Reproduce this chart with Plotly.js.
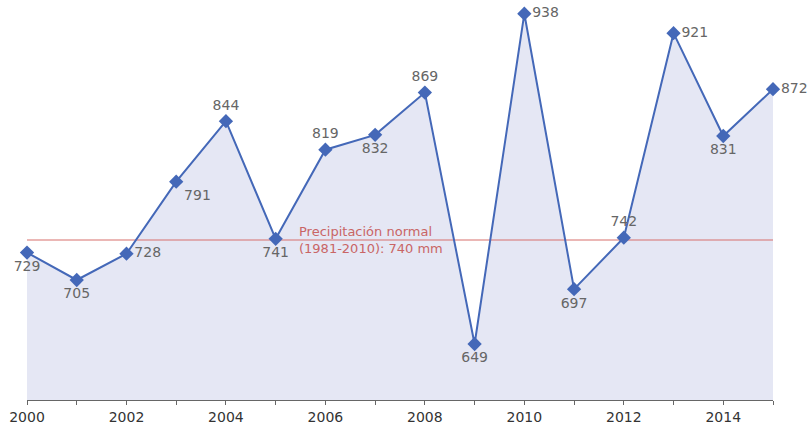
<!DOCTYPE html>
<html>
<head>
<meta charset="utf-8">
<script src="https://cdn.plot.ly/plotly-3.0.1.min.js"></script>
<style>html,body{margin:0;padding:0;background:#fff}#chart{width:809px;height:429px}</style>
</head>
<body>
<div id="chart"></div>
<script>
// Annual precipitation (mm), 2000–2015
const years = [2000,2001,2002,2003,2004,2005,2006,2007,2008,2009,2010,2011,2012,2013,2014,2015];
const precip = [729,705,728,791,844,741,819,832,869,649,938,697,742,921,831,872];
const labelPos = ['bottom center','bottom center','middle right','bottom right','top center','bottom center',
                  'top center','bottom center','top center','bottom center','middle right','bottom center',
                  'top center','middle right','bottom center','middle right'];
const normalValue = 740;
const normalLabel = 'Precipitación normal<br>(1981-2010): 740 mm';
const tickYears = [2000,2002,2004,2006,2008,2010,2012,2014];

const font = 'DejaVu Sans, sans-serif';
const blue = '#4468b8';

const traces = [
  // shaded area under the series
  {
    x: years, y: precip,
    type: 'scatter', mode: 'none',
    fill: 'tozeroy', fillcolor: '#e5e7f4',
    hoverinfo: 'skip'
  },
  // 1981-2010 normal reference line (drawn over the shading, under the series)
  {
    x: [years[0], years[years.length - 1]], y: [normalValue, normalValue],
    type: 'scatter', mode: 'lines',
    line: {color: '#d8706c', width: 1.2},
    hoverinfo: 'skip'
  },
  // series line, markers and value labels
  {
    x: years, y: precip,
    type: 'scatter', mode: 'lines+markers+text',
    line: {color: blue, width: 2},
    marker: {symbol: 'diamond', size: 11, color: blue},
    text: precip.map(String),
    textposition: labelPos,
    textfont: {family: font, size: 14, color: '#666'},
    cliponaxis: false,
    hoverinfo: 'x+y'
  }
];

const layout = {
  width: 809, height: 429,
  margin: {l: 27, r: 36, t: 0, b: 29},
  paper_bgcolor: '#fff', plot_bgcolor: '#fff',
  showlegend: false,
  xaxis: {
    range: [2000, 2015],
    tickvals: tickYears, ticktext: tickYears.map(String),
    showgrid: false, zeroline: false,
    showline: true, linecolor: '#666', linewidth: 1,
    ticks: 'outside', ticklen: 4, tickcolor: '#666',
    minor: {dtick: 1, tick0: 2000, ticks: 'outside', ticklen: 4, tickcolor: '#666'},
    tickfont: {family: font, size: 14, color: '#333'}
  },
  yaxis: {
    range: [600, 950],
    showgrid: false, zeroline: false, showline: false,
    showticklabels: false, ticks: ''
  },
  annotations: [
    {x: 2005.42, y: normalValue, xref: 'x', yref: 'y', text: normalLabel, showarrow: false,
     xanchor: 'left', yanchor: 'middle', align: 'left',
     font: {family: font, size: 13, color: '#c96565'}}
  ]
};

Plotly.newPlot('chart', traces, layout, {displayModeBar: false, staticPlot: true});
</script>
</body>
</html>
